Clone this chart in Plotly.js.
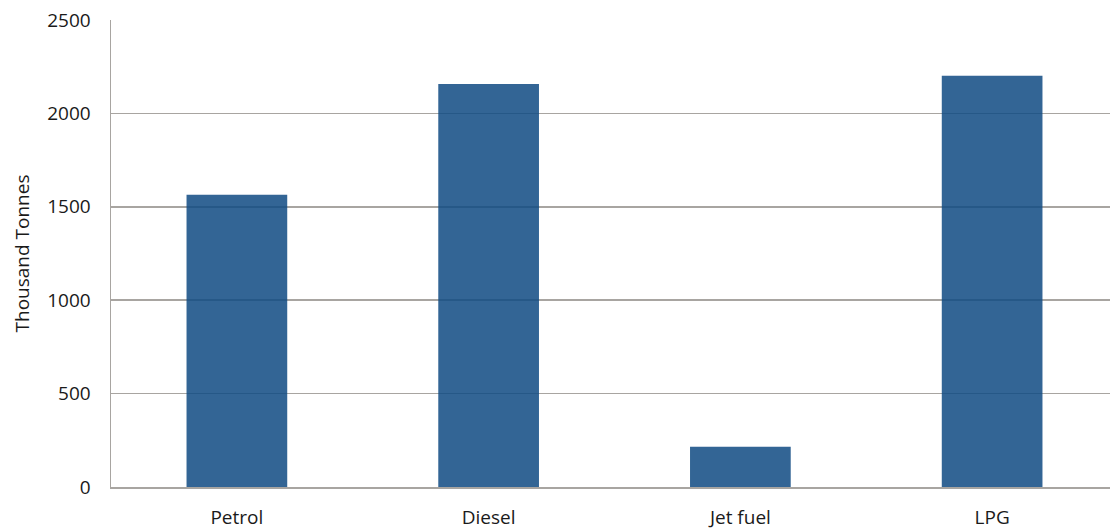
<!DOCTYPE html>
<html>
<head>
<meta charset="utf-8">
<script src="https://cdn.plot.ly/plotly-3.0.1.min.js"></script>
<style>
  html, body { margin: 0; padding: 0; background: #ffffff; overflow: hidden; }
  #chart { width: 1118px; height: 529px; }
</style>
</head>
<body>
<div id="chart"></div>
<script>
// Fuel categories and quantities (thousand tonnes)
const fuels = ["Petrol", "Diesel", "Jet fuel", "LPG"];
const tonnes = [1565, 2158, 216, 2202];
const yTicks = [0, 500, 1000, 1500, 2000, 2500];

const gridGrey = "#a8a5a1";
const textFont = { family: "Open Sans, Noto Sans, sans-serif", size: 19, color: "#1a1a1a" };

const trace = {
  type: "bar",
  x: fuels,
  y: tonnes,
  marker: { color: "rgb(15,74,131)", opacity: 0.85, line: { width: 0 } },
  hoverinfo: "x+y"
};

const layout = {
  width: 1118,
  height: 529,
  margin: { l: 111, r: 0, t: 20, b: 42, pad: 0 },
  paper_bgcolor: "#ffffff",
  plot_bgcolor: "#ffffff",
  showlegend: false,
  bargap: 0.6,
  font: textFont,
  xaxis: {
    type: "category",
    range: [-0.5, 3.5],
    showgrid: false,
    showline: true,
    linecolor: gridGrey,
    linewidth: 1.5,
    ticks: "",
    ticklabelstandoff: 13,
    tickfont: textFont,
    fixedrange: true
  },
  yaxis: {
    range: [0, 2500],
    tickvals: yTicks,
    ticktext: yTicks.map(String),
    showgrid: true,
    gridcolor: gridGrey,
    gridwidth: 1.5,
    zeroline: false,
    showline: true,
    linecolor: gridGrey,
    linewidth: 1.5,
    ticks: "",
    ticklabelstandoff: 15,
    tickfont: textFont,
    automargin: false,
    title: { text: "Thousand Tonnes", font: textFont, standoff: 12 },
    fixedrange: true
  }
};

Plotly.newPlot("chart", [trace], layout, { displayModeBar: false, staticPlot: true });
</script>
</body>
</html>
